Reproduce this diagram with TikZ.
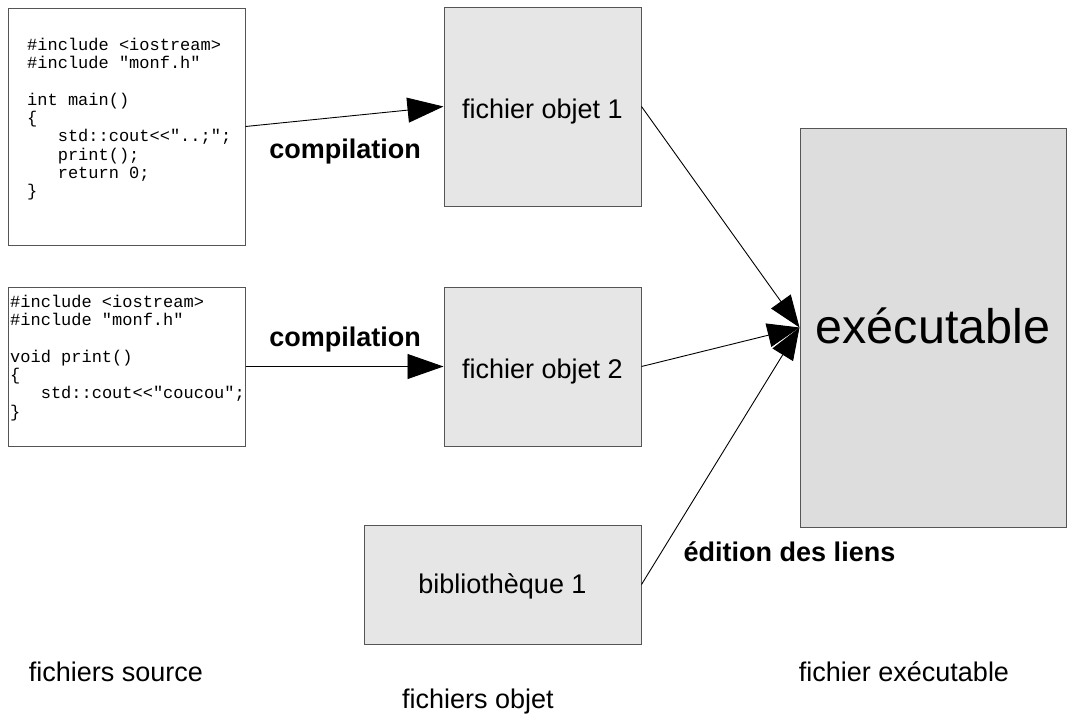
\documentclass[tikz,border=0pt]{standalone}
\usepackage{fontspec}
\setmainfont{Liberation Sans}
\newfontfamily\codefont{Liberation Mono}
\usetikzlibrary{arrows.meta}
\definecolor{objgray}{HTML}{E6E6E6}
\definecolor{exegray}{HTML}{DDDDDD}
\definecolor{edge}{HTML}{555555}
\tikzset{
  srcbox/.style={draw=edge, line width=1pt, fill=white, rectangle, inner sep=0pt},
  objbox/.style={draw=edge, line width=1pt, fill=objgray, rectangle, inner sep=0pt, font=\fontsize{27}{30}\selectfont, text depth=6pt},
  exebox/.style={draw=edge, line width=1pt, fill=exegray, rectangle, inner sep=0pt, font=\fontsize{48.5}{52}\selectfont, text depth=10pt},
  code/.style={anchor=north west, inner sep=0pt, align=left, font={\codefont\fontsize{17}{18.3}\selectfont\lineskiplimit=-100pt}},
  lbl/.style={inner sep=0pt, anchor=base, font=\fontsize{27}{30}\selectfont},
  blbl/.style={inner sep=0pt, anchor=base, font=\fontsize{27}{30}\selectfont\bfseries},
  conn/.style={line width=0.9pt, -{Triangle[length=36pt,width=25pt]}},
  link/.style={line width=0.9pt, -{Triangle[length=32pt,width=24pt]}}
}
\newcommand{\ind}{\hspace*{1.8em}}
\begin{document}
\begin{tikzpicture}[x=1pt,y=-1pt]
\useasboundingbox (0,0) rectangle (1074,716);
% source boxes
\node[srcbox, minimum width=237pt, minimum height=237pt] (src1) at (126.5,126.5) {};
\node[srcbox, minimum width=237pt, minimum height=159pt] (src2) at (126.5,366.5) {};
\node[code] (code1) at (27,37.3) {\strut\#include <iostream>\\
\strut\#include "monf.h"\\
\strut\\
\strut int main()\\
\strut\{\\
\strut\ind std::cout<<"..;";\\
\strut\ind print();\\
\strut\ind return 0;\\
\strut\}};
\node[code] (code2) at (10,294.3) {\strut\#include <iostream>\\
\strut\#include "monf.h"\\
\strut\\
\strut void print()\\
\strut\{\\
\strut\ind std::cout<<"coucou";\\
\strut\}};
% object files
\node[objbox, minimum width=197pt, minimum height=199pt, text height=29.6pt] (obj1) at (542.5,106.5) {fichier objet 1};
\node[objbox, minimum width=197pt, minimum height=159pt, text height=29.6pt] (obj2) at (542.5,366.5) {fichier objet 2};
\node[objbox, minimum width=277pt, minimum height=119pt, text height=23pt] (lib) at (502.5,584.5) {bibliothèque 1};
% executable
\node[exebox, minimum width=266pt, minimum height=399pt, text height=41.6pt] (exe) at (933,327.5) {exécutable};
% connectors
\draw[conn] (src1.east) -- (obj1.west);
\draw[conn] (src2.east) -- (obj2.west);
\draw[link] (obj1.east) -- (exe.west);
\draw[link] (obj2.east) -- (exe.west);
\draw[link] (lib.east) -- (exe.west);
% labels
\node[blbl] (comp1) at (345,158) {compilation};
\node[blbl] (comp2) at (345,346.5) {compilation};
\node[blbl] (edl) at (789.5,561) {édition des liens};
\node[lbl] (fsrc) at (116,681.5) {fichiers source};
\node[lbl] (fobj) at (478,708.3) {fichiers objet};
\node[lbl] (fexe) at (904,681.5) {fichier exécutable};
\end{tikzpicture}
\end{document}
